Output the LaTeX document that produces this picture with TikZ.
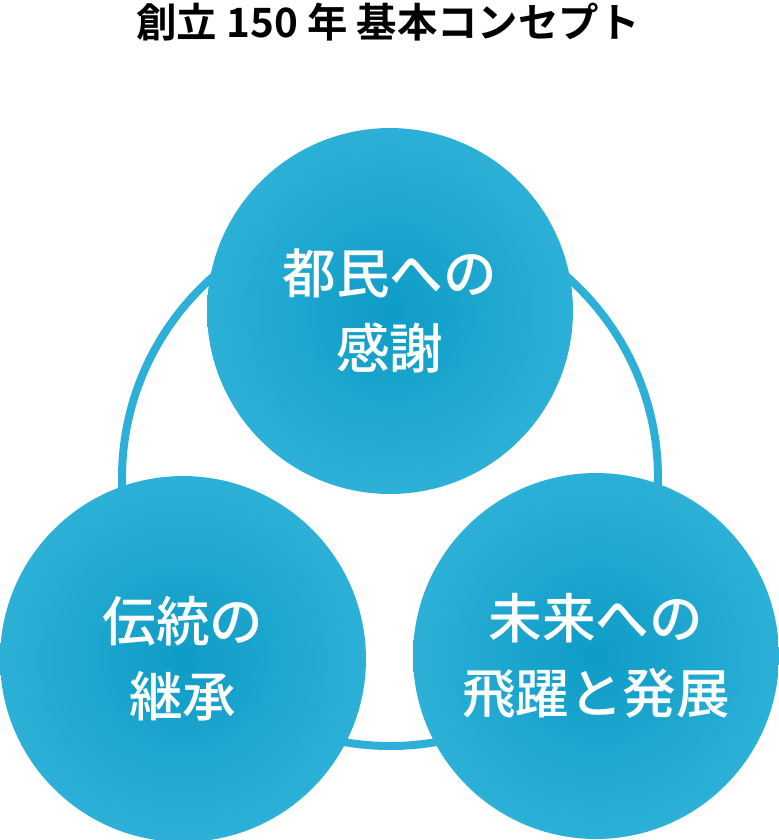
\documentclass[tikz,border=0pt]{standalone}
\usepackage{fontspec}
\newfontfamily\cjk{Noto Sans CJK JP Medium}[BoldFont={Noto Sans CJK JP Bold}]
\definecolor{ringblue}{HTML}{2CB0D7}
\definecolor{coreblue}{HTML}{0E9CC6}
\tikzset{
  topic/.style={circle, minimum size=7.32cm, inner sep=0pt, inner color=coreblue, outer color=ringblue,
    text=white, align=center, font=\cjk\fontsize{30.5}{42.5}\selectfont},
}
\begin{document}
\begin{tikzpicture}[x=0.02cm, y=-0.02cm]
    \useasboundingbox (0,0) rectangle (779,840);

	% Title
	\node (title) at (388,22) {\cjk\bfseries\fontsize{23}{26}\selectfont 創立 150 年 基本コンセプト};

	% Ring behind the circles
	\draw[ringblue, line width=0.16cm] (390,478) circle (268);

	% Three topics
	\node[topic] (gratitude) at (390,311) {都民への\\感謝};
	\node[topic] (tradition) at (183,659) {伝統の\\継承};
	\node[topic] (future) at (596,656) {未来への\\飛躍と発展};

\end{tikzpicture}
\end{document}
